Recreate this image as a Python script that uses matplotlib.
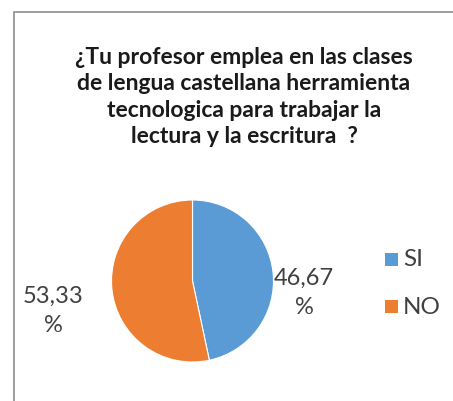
import matplotlib.pyplot as plt
from matplotlib.patches import Rectangle

categories = ["SI", "NO"]
values = [46.67, 53.33]
colors = ["#5B9BD5", "#ED7D31"]
title = ("¿Tu profesor emplea en las clases\n"
         "de lengua castellana herramienta\n"
         "tecnologica para trabajar la\n"
         "lectura y la escritura  ?")

W, H = 453, 402
fig = plt.figure(figsize=(W / 100, H / 100), dpi=100)
fig.patch.set_facecolor("white")

# chart frame (cut off on right and bottom like the screenshot)
fig.patches.append(Rectangle((14 / W, -0.1), 1.2, (H - 13) / H + 0.1,
                             transform=fig.transFigure, fill=False,
                             edgecolor="#8c8c8c", linewidth=1.2))

fig.text(244 / W, 1 - 97 / H, title, ha="center", va="center",
         fontsize=16.5, fontweight="bold", family=["Lato", "DejaVu Sans"],
         linespacing=1.3, color="#1a1a1a")

cx, cy, r = 192.5, 282, 81
ax = fig.add_axes([(cx - r) / W, (H - cy - r) / H, 2 * r / W, 2 * r / H])
ax.pie(values, colors=colors, startangle=90, counterclock=False,
       wedgeprops=dict(linewidth=0.8, edgecolor="white"))
ax.set_xlim(-1, 1)
ax.set_ylim(-1, 1)
ax.axis("off")

label_pos = [(304, 293), (53, 311)]
for v, (lx, ly) in zip(values, label_pos):
    fig.text(lx / W, 1 - ly / H, f"{v:.2f}".replace(".", ",") + "\n%",
             ha="center", va="center", fontsize=17, linespacing=1.5,
             family=["Lato", "DejaVu Sans"], color="#404040")

leg_y = [260, 307]
for cat, col, ly in zip(categories, colors, leg_y):
    fig.patches.append(Rectangle((385 / W, 1 - (ly + 6.5) / H), 13 / W, 13 / H,
                                 transform=fig.transFigure, facecolor=col,
                                 edgecolor="none"))
    fig.text(403 / W, 1 - ly / H, cat, ha="left", va="center", fontsize=17.5,
             family=["Lato", "DejaVu Sans"], color="#404040")

fig.savefig("out.png", dpi=100)
